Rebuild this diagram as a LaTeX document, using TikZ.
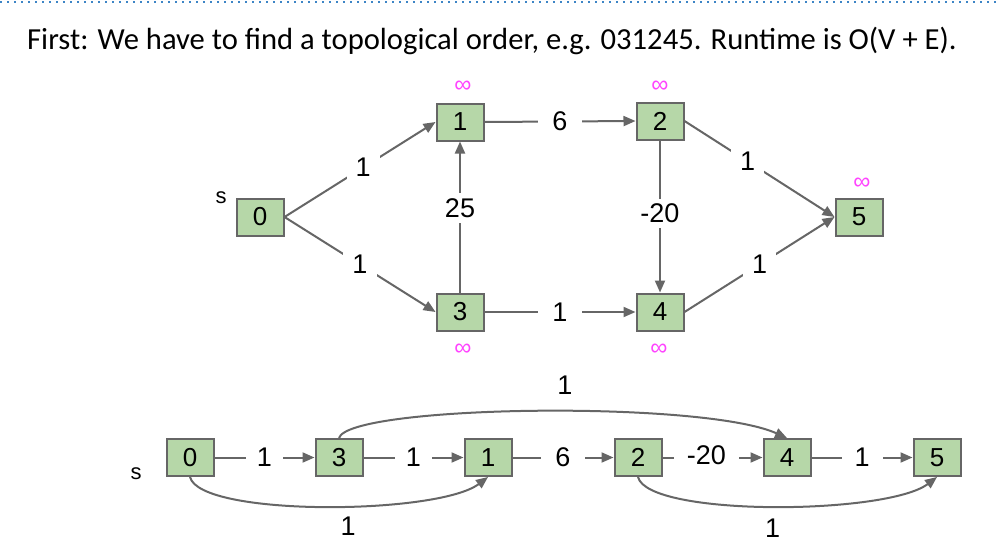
\documentclass[tikz,border=0pt]{standalone}
\usepackage{fontspec}
\setmainfont{Liberation Sans}
\newfontfamily\titlefont{Carlito}
\usetikzlibrary{arrows.meta}
\definecolor{nodefill}{HTML}{B6D7A8}
\definecolor{edgegray}{HTML}{666666}
\definecolor{infcol}{HTML}{FF44FF}
\definecolor{dotblue}{HTML}{3D85C6}
\begin{document}
\begin{tikzpicture}[x=1pt,y=-1pt,
  vbox/.style={draw=edgegray, line width=2pt, fill=nodefill, minimum width=47pt,
    minimum height=37pt, inner sep=0pt, font=\fontsize{26}{28}\selectfont},
  arr/.style={draw=edgegray, line width=2pt, -{Triangle[length=12pt,width=10pt]}},
  lbl/.style={fill=white, inner xsep=9pt, inner ysep=5pt, font=\fontsize{27}{29}\selectfont},
  clbl/.style={inner sep=2pt, font=\fontsize{27}{29}\selectfont},
  inf/.style={text=infcol, inner sep=0pt, font=\fontsize{24}{26}\selectfont},
  slbl/.style={inner sep=0pt, font=\fontsize{22}{24}\selectfont}]
\useasboundingbox (0,0) rectangle (996,546);
% top dotted rule
\coordinate (dl) at (0,2);
\coordinate (dr) at (996,2);
\draw[dotblue, line width=2pt, dash pattern=on 2pt off 5pt] (dl) -- (dr);
% title
\node[anchor=west, inner sep=0pt, font=\titlefont\fontsize{30.6}{33}\selectfont] (title) at (27,41)
  {First: We have to find a topological order, e.g. 031245. Runtime is O(V + E).};
% upper graph
\node[vbox] (a0) at (260,217) {0};
\node[vbox] (a1) at (460,122) {1};
\node[vbox] (a3) at (460,312) {3};
\node[vbox] (a2) at (660,121) {2};
\node[vbox] (a4) at (660,312) {4};
\node[vbox] (a5) at (859,217) {5};
\node[slbl] (sa) at (221,198) {s};
\node[inf] (ia1) at (463,87) {∞};
\node[inf] (ia2) at (660,87) {∞};
\node[inf] (ia5) at (862,184) {∞};
\node[inf] (ia3) at (463,350) {∞};
\node[inf] (ia4) at (659,350) {∞};
\draw[arr] (a0.east) -- node[lbl, pos=0.52] {1} (a1.west);
\draw[arr] (a0.east) -- node[lbl, pos=0.5] {1} (a3.west);
\draw[arr] (a3.north) -- node[lbl, pos=0.56] {25} (a1.south);
\draw[arr] (a1.east) -- node[lbl, pos=0.5, inner xsep=14pt] {6} (a2.west);
\draw[arr] (a3.east) -- node[lbl, pos=0.5, inner xsep=14pt] {1} (a4.west);
\draw[arr] (a2.south) -- node[lbl, pos=0.48] {-20} (a4.north);
\draw[arr] (a2.east) -- node[lbl, pos=0.42] {1} (a5.west);
\draw[arr] (a4.east) -- node[lbl, pos=0.5] {1} (a5.west);
% lower row
\node[vbox] (b0) at (190,457.5) {0};
\node[vbox] (b3) at (339,457.5) {3};
\node[vbox] (b1) at (488,457.5) {1};
\node[vbox] (b2) at (638,457.5) {2};
\node[vbox] (b4) at (787,457.5) {4};
\node[vbox] (b5) at (937,457.5) {5};
\node[slbl] (sb) at (136,474) {s};
\draw[arr] (b0.east) -- node[lbl, inner xsep=11pt] {1} (b3.west);
\draw[arr] (b3.east) -- node[lbl, inner xsep=11pt] {1} (b1.west);
\draw[arr] (b1.east) -- node[lbl, inner xsep=14pt] {6} (b2.west);
\draw[arr] (b2.east) -- node[lbl, pos=0.44, inner xsep=13pt, yshift=2pt] {-20} (b4.west);
\draw[arr] (b4.east) -- node[lbl, inner xsep=13pt] {1} (b5.west);
\draw[arr] (b3.north) .. controls +(10,-33) and +(-85,-38) .. node[clbl, pos=0.5, xshift=30pt, yshift=26pt] {1} (b4.north);
\draw[arr] (b0.south) .. controls +(10,40) and +(-50,38) .. node[clbl, pos=0.55, xshift=4pt, yshift=-20pt] {1} (b1.south);
\draw[arr] (b2.south) .. controls +(10,40) and +(-50,38) .. node[clbl, pos=0.5, yshift=-22pt] {1} (b5.south);
\end{tikzpicture}
\end{document}
